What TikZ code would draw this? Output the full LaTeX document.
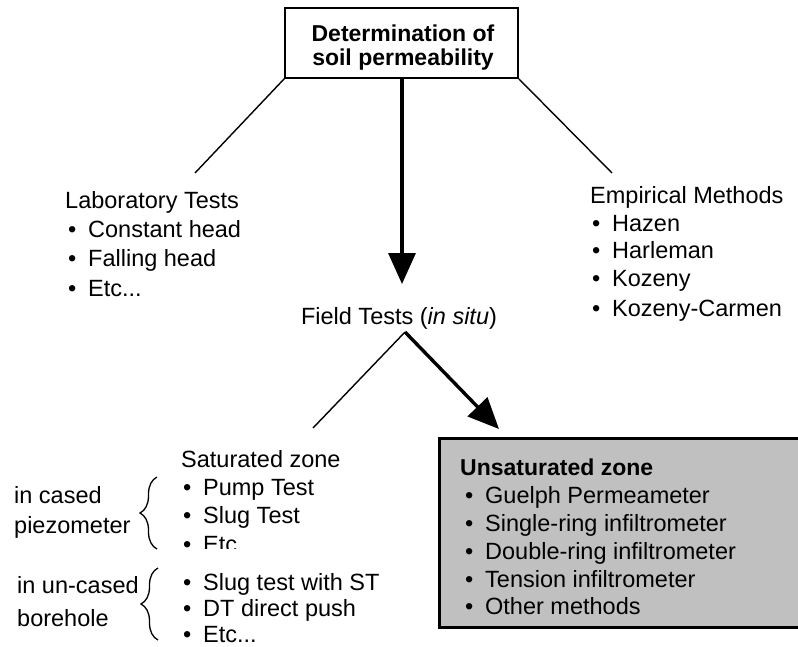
\documentclass[tikz,border=0pt]{standalone}
\usepackage{fontspec}
\setmainfont{Liberation Sans}
\usetikzlibrary{arrows.meta,decorations.pathreplacing}
\newcommand\myblt{\makebox[20pt][l]{\textbullet}}
\begin{document}
\begin{tikzpicture}[x=1pt,y=-1pt,
  every node/.style={font=\fontsize{23.5}{28}\selectfont, inner sep=0pt},
  txt/.style={anchor=base west},
  thin line/.style={line width=1.4pt},
  thick arrow/.style={line width=3.4pt,-{Triangle[length=31pt,width=27pt]}},
  bracestyle/.style={line width=1.3pt,decorate,decoration={brace,amplitude=17pt,aspect=0.5}}]
\useasboundingbox (0,0) rectangle (798,646);

% title
\node[draw,line width=1.5pt,minimum width=233pt,minimum height=70pt] (title) at (401.5,43) {};
\node[align=center,font=\fontsize{23}{24}\selectfont\bfseries] (titletext) at (403,48) {Determination of\\soil permeability};

% left and right branches
\coordinate (labEnd) at (195,173);
\coordinate (empEnd) at (612,173);
\draw[thin line] (title.south west) -- (labEnd);
\draw[thin line] (title.south east) -- (empEnd);

% laboratory
\node[txt] (lab) at (65,208) {Laboratory Tests};
\node[txt] (lab1) at (68,237) {\myblt Constant head};
\node[txt] (lab2) at (68,266) {\myblt Falling head};
\node[txt] (lab3) at (68,296) {\myblt Etc...};

% empirical
\node[txt] (emp) at (590,203) {Empirical Methods};
\node[txt] (emp1) at (592,231) {\myblt Hazen};
\node[txt] (emp2) at (592,258) {\myblt Harleman};
\node[txt] (emp3) at (592,286) {\myblt Kozeny};
\node[txt] (emp4) at (592,316) {\myblt Kozeny-Carmen};

% field tests
\node[anchor=base] (field) at (399,324) {Field Tests (\textit{in situ})};
\coordinate (vtop) at (402,78);
\coordinate (vtip) at (402,284);
\draw[thick arrow] (vtop) -- (vtip);
\coordinate (fork) at (405,332);
\coordinate (satEnd) at (313,428);
\coordinate (unsTip) at (499,429);

% unsaturated box
\node[draw,line width=2.6pt,fill={rgb,255:red,192;green,192;blue,192},minimum width=380pt,minimum height=189pt,anchor=north west] (unsat) at (438,437) {};
\draw[thin line] (fork) -- (satEnd);
\draw[thick arrow] (fork) -- (unsTip);

% saturated
\node[txt] (sat) at (181,467) {Saturated zone};
\node[txt] (sat1) at (183,495) {\myblt Pump Test};
\node[txt] (sat2) at (183,523) {\myblt Slug Test};
\begin{scope}
\clip (150,528) rectangle (320,548);
\node[txt] (sat3) at (183,552) {\myblt Etc...};
\end{scope}
\node[txt] (cased1) at (14,503) {in cased};
\node[txt] (cased2) at (14,533) {piezometer};
\coordinate (b1bot) at (157,549);
\coordinate (b1top) at (157,477);
\draw[bracestyle] (b1bot) -- (b1top);

\node[txt] (unc1) at (17,593) {in un-cased};
\node[txt] (unc2) at (17,626) {borehole};
\node[txt] (sat4) at (183,590) {\myblt Slug test with ST};
\node[txt] (sat5) at (183,616) {\myblt DT direct push};
\node[txt] (sat6) at (183,642) {\myblt Etc...};
\coordinate (b2bot) at (158,640);
\coordinate (b2top) at (158,568);
\draw[bracestyle] (b2bot) -- (b2top);

% unsaturated contents
\node[txt,font=\fontsize{23}{28}\selectfont\bfseries] (uns) at (460,475) {Unsaturated zone};
\node[txt] (u1) at (465,503) {\myblt Guelph Permeameter};
\node[txt] (u2) at (465,531) {\myblt Single-ring infiltrometer};
\node[txt] (u3) at (465,559) {\myblt Double-ring infiltrometer};
\node[txt] (u4) at (465,587) {\myblt Tension infiltrometer};
\node[txt] (u5) at (465,614) {\myblt Other methods};
\end{tikzpicture}
\end{document}
